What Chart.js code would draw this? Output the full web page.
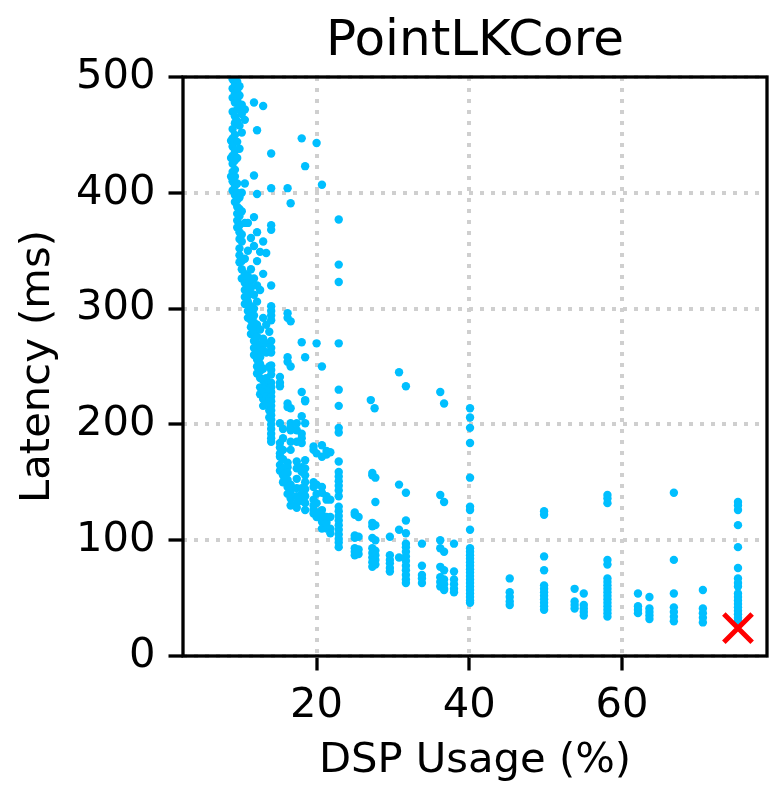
<!DOCTYPE html>
<html>
<head>
<meta charset="utf-8">
<script src="https://cdn.jsdelivr.net/npm/chart.js@4/dist/chart.umd.min.js"></script>
<style>
  body { margin: 0; background: #fff; }
  canvas { display: block; }
</style>
</head>
<body>
<canvas id="chart" width="778" height="800"></canvas>
<script>
// DSP usage of each column of configurations (%)
var dspCols = [8.8, 9.0, 9.3, 9.6, 9.9, 10.2, 10.6, 11.0, 11.4, 11.8, 12.2, 12.6, 13.0, 13.4, 13.8,
  14.05, 15.2, 15.6, 16.2, 16.6, 17.4, 18.05, 18.5, 19.6, 20.0, 20.7, 21.3, 21.8, 22.9,
  25.0, 25.5, 27.1, 27.3, 27.6, 27.7, 29.6, 30.8, 31.7, 33.8, 36.2, 36.7, 38.0, 40.1,
  45.3, 49.8, 53.8, 55.0, 58.1, 62.1, 63.6, 66.8, 70.6, 75.2];

// latency values (ms) read for each column
var latencyCols = [
  [445, 430, 414],
  [498, 490, 482, 470, 455, 447, 440, 432, 425, 418, 410, 402],
  [500, 494, 486, 478, 466, 460, 450, 436, 428, 420, 414, 406, 398, 392],
  [496, 488, 480, 472, 462, 444, 430, 408, 400, 394, 388, 382, 376, 370],
  [492, 484, 474, 458, 438, 396, 386, 380, 372, 366, 360, 352, 346, 340],
  [476, 468, 452, 400, 384, 364, 358, 341, 334, 326],
  [472, 463, 408, 374, 343, 330, 322, 316, 310, 304],
  [374, 350, 328, 320, 314, 311, 306, 298, 292],
  [361, 334, 324, 318, 302, 296, 290, 284, 278],
  [478, 415, 379, 354, 326, 312, 300, 294, 288, 280, 272, 266, 260],
  [454, 399, 366, 341, 320, 306, 286, 276, 270, 262, 256, 250, 244],
  [349, 316, 282, 268, 258, 252, 246, 240, 232, 226],
  [475, 358, 330, 292, 274, 264, 248, 238, 228, 222, 216],
  [348, 286, 270, 262, 240, 234, 224, 218],
  [280, 250, 236, 230, 222, 212, 206],
  [434, 404, 372, 368, 320, 302, 298, 294, 290, 272, 266, 262, 251, 247, 243, 236, 232, 228,
    224, 220, 216, 212, 208, 204, 200, 196, 192, 188, 185],
  [241, 236, 233, 201, 184, 180, 175, 172, 165, 160],
  [196, 188, 178, 170, 162, 156, 150],
  [404, 296, 292, 258, 254, 218, 215, 167, 163, 158, 152, 146, 140],
  [391, 289, 250, 214, 201, 198, 195, 185, 178, 148, 142, 136, 130],
  [201, 195, 185, 168, 162, 153, 145, 138, 132, 128],
  [447, 271, 228, 207, 192, 188, 184, 163, 159, 145, 140, 134],
  [423, 258, 221, 220, 201, 169, 162, 156, 150, 144, 138, 132, 126],
  [181, 178, 150, 146, 135, 130, 126, 123],
  [443, 270, 175, 148, 140, 132, 124, 120],
  [407, 250, 182, 172, 146, 141, 126, 122, 116, 110],
  [177, 174, 138, 135, 120, 115, 110],
  [176, 135, 120, 110, 106],
  [377, 338, 323, 270, 230, 216, 197, 193, 168, 159, 155, 151, 147, 143, 138, 129, 125, 121,
    117, 113, 109, 105, 101, 98, 94],
  [124, 122, 104, 102, 93, 90, 87],
  [120, 103, 92, 88],
  [221],
  [158, 156, 115, 112, 102, 93, 89, 85, 81, 77],
  [214],
  [154, 133, 113, 100, 91, 87, 83, 79],
  [103, 87, 83, 80, 76, 73],
  [245, 148, 109, 85],
  [233, 141, 117, 106, 97, 94, 90, 86, 82, 78, 74, 70, 66, 63],
  [97, 78, 70, 67, 63],
  [228, 139, 100, 93, 77, 68, 64, 60],
  [218, 133, 90, 74, 66, 62, 58, 57],
  [97, 73, 66, 62, 58, 55],
  [214, 206, 197, 184, 154, 129, 126, 109, 93, 90, 87, 84, 81, 78, 75, 72, 69, 66, 63, 60,
    57, 54, 51, 48, 46],
  [67, 55, 51, 47, 44],
  [125, 122, 86, 74, 61, 58, 55, 52, 49, 46, 43, 40],
  [58, 47, 44, 41],
  [54, 44, 41, 38, 35],
  [139, 136, 132, 83, 79, 67, 64, 61, 58, 55, 52, 49, 46, 43, 40, 37, 34],
  [54, 43, 40, 37],
  [51, 41, 38, 35, 32],
  [141, 83, 54, 42, 38, 34, 30],
  [57, 41, 37, 33, 29],
  [133, 130, 126, 113, 94, 76, 67, 63, 60, 54, 51, 48, 45, 42, 39, 36, 33, 30, 28]
];

// chosen configuration (red cross)
var bestDsp = [75.2];
var bestLatency = [24];

var xTicks = [20, 40, 60];
var yTicks = [0, 100, 200, 300, 400, 500];

var points = [];
dspCols.forEach(function (x, i) {
  latencyCols[i].forEach(function (y) {
    points.push({ x: x, y: y });
  });
});
var best = bestDsp.map(function (x, i) { return { x: x, y: bestLatency[i] }; });

Chart.defaults.font.family = "'DejaVu Sans', sans-serif";
Chart.defaults.color = '#000';

// black box around the plot area, like matplotlib spines
var frame = {
  id: 'frame',
  afterDatasetsDraw: function (chart) {
    var a = chart.chartArea, ctx = chart.ctx;
    ctx.save();
    ctx.strokeStyle = '#000';
    ctx.lineWidth = 3.3;
    ctx.strokeRect(a.left, a.top, a.right - a.left, a.bottom - a.top);
    ctx.restore();
  }
};

var gridOpts = {
  color: '#cfcfcf',
  lineWidth: 4,
  tickColor: '#000',
  tickWidth: 3.3,
  tickLength: 14.5
};

new Chart(document.getElementById('chart'), {
  type: 'scatter',
  data: {
    datasets: [{
      data: best,
      pointStyle: 'crossRot',
      pointRadius: 20,
      borderColor: '#ff0000',
      borderWidth: 5
    }, {
      data: points,
      pointStyle: 'circle',
      pointRadius: 4.2,
      borderWidth: 0,
      backgroundColor: '#00bfff'
    }]
  },
  options: {
    responsive: false,
    animation: false,
    layout: { autoPadding: false, padding: { left: 0, right: 11, top: 0, bottom: 0 } },
    plugins: {
      legend: { display: false },
      tooltip: { enabled: false },
      title: {
        display: true,
        text: 'PointLKCore',
        fullSize: false,
        font: { size: 50, weight: 'normal' },
        padding: { top: 12, bottom: 5 }
      }
    },
    scales: {
      x: {
        type: 'linear',
        min: 2.5,
        max: 79,
        afterFit: function (s) { s.height = 144; s.paddingLeft = 0; s.paddingRight = 0; },
        afterBuildTicks: function (s) { s.ticks = xTicks.map(function (v) { return { value: v }; }); },
        grid: gridOpts,
        border: { display: false, dash: [4, 7] },
        ticks: { font: { size: 41.7 }, padding: 11, maxRotation: 0 },
        title: { display: true, text: 'DSP Usage (%)', font: { size: 41.7 }, padding: { top: 0, bottom: 14 } }
      },
      y: {
        type: 'linear',
        min: 0,
        max: 500,
        afterFit: function (s) { s.width = 183; s.paddingTop = 0; s.paddingBottom = 0; },
        afterBuildTicks: function (s) { s.ticks = yTicks.map(function (v) { return { value: v }; }); },
        grid: gridOpts,
        border: { display: false, dash: [4, 7] },
        ticks: { font: { size: 41.7 }, padding: 13 },
        title: { display: true, text: 'Latency (ms)', font: { size: 41.7 }, padding: { top: 13, bottom: 0 } }
      }
    }
  },
  plugins: [frame]
});
</script>
</body>
</html>
